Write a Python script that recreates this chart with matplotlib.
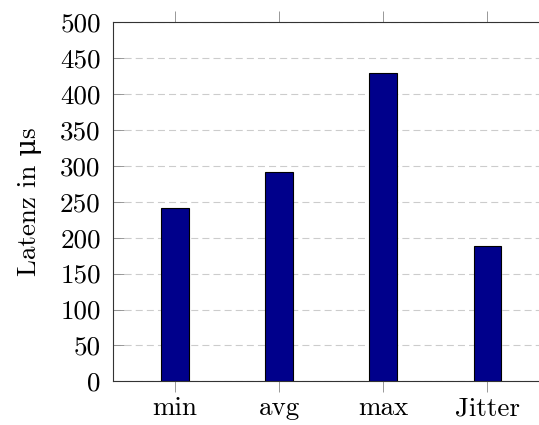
import matplotlib
matplotlib.use("Agg")
import matplotlib.pyplot as plt
import numpy as np

categories = ["min", "avg", "max", "Jitter"]
latency = [241, 292, 430, 188]
y_ticks = list(range(0, 501, 50))

plt.rcParams['font.family'] = ['cmr10', 'DejaVu Serif']
plt.rcParams['axes.formatter.use_mathtext'] = True

fig = plt.figure(figsize=(5.39, 4.25), dpi=100)
ax = fig.add_axes([0.209, 0.1028, 0.8107, 0.8447])

x = np.arange(len(categories))
ax.bar(x, latency, width=0.263, color='#00008B', edgecolor='black', linewidth=0.8, zorder=3)

ax.set_xlim(-0.6, 3.6)
ax.set_ylim(0, 500)
ax.set_xticks(x)
ax.set_xticklabels(categories, fontsize=19.5)
ax.set_yticks(y_ticks)
ax.set_yticklabels([str(v) for v in y_ticks], fontsize=19.5)

# horizontal dashed grid only
ax.yaxis.grid(True, linestyle=(0, (6.3, 3.7)), color='#cccccc', linewidth=0.8, zorder=0)
ax.tick_params(axis='x', direction='out', length=8, width=0.6, color='#888888',
               top=True, labeltop=False, pad=3)
ax.tick_params(axis='y', direction='in', length=8, width=0.6, color='#888888', pad=8.5)
for side in ['left', 'bottom', 'top']:
    ax.spines[side].set_color('#333333')
    ax.spines[side].set_linewidth(0.8)
ax.spines['right'].set_visible(False)

ax.set_ylabel("Latenz in \u03bcs", fontsize=19.5, labelpad=13)

fig.savefig("out.png", dpi=100)
